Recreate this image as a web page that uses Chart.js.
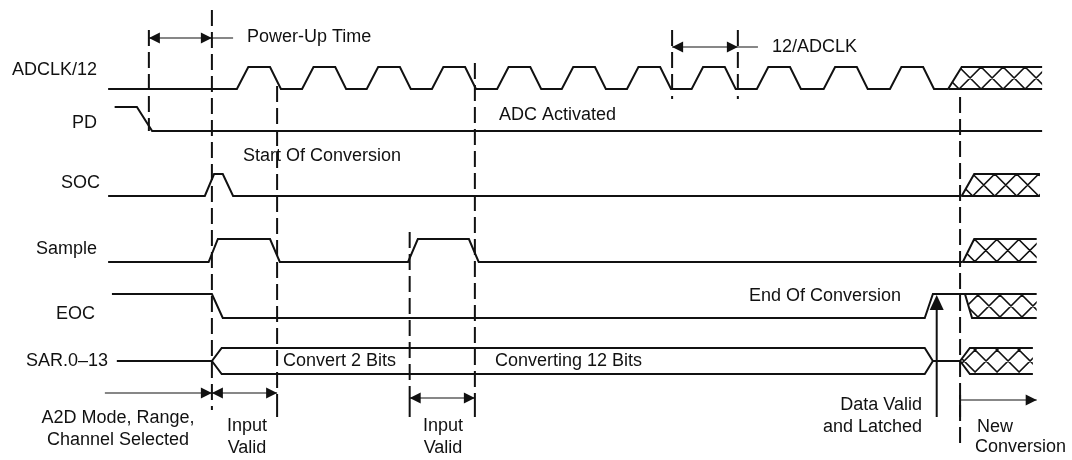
<!DOCTYPE html>
<html>
<head>
<meta charset="utf-8">
<script src="https://cdn.jsdelivr.net/npm/chart.js@4/dist/chart.umd.min.js"></script>
<style>
  body { margin: 0; background: #fff; }
  canvas { display: block; }
</style>
</head>
<body>
<canvas id="timing" width="1072" height="460"></canvas>
<script>
// time axis is in ADCLK cycles, 0 = end of power-up / start of conversion
// levels: 0 = low, 1 = high (bus: -1 / 1 are the two rails)

const adclkT = [-19.1,
  4.6, 6.7, 10.7, 12.7,
  16.6, 18.7, 22.7, 24.7,
  28.5, 30.6, 34.6, 36.6,
  40.5, 42.6, 46.6, 48.6,
  52.5, 54.6, 58.6, 60.6,
  64.4, 66.5, 70.5, 72.5,
  76.4, 78.5, 82.5, 84.5,
  88.3, 90.4, 94.4, 96.4,
  100.3, 102.4, 106.4, 108.4,
  112.6, 114.7, 118.7, 120.7,
  124.8, 126.9, 130.9, 132.9,
  135.5];
const adclkLv = [0,
  0, 1, 1, 0,
  0, 1, 1, 0,
  0, 1, 1, 0,
  0, 1, 1, 0,
  0, 1, 1, 0,
  0, 1, 1, 0,
  0, 1, 1, 0,
  0, 1, 1, 0,
  0, 1, 1, 0,
  0, 1, 1, 0,
  0, 1, 1, 0,
  0];

const pdT = [-17.9, -13.8, -11.0, 152.8];
const pdLv = [1, 1, 0, 0];

const socT = [-19.1, -1.3, 0.4, 2.0, 3.9, 138.0];
const socLv = [0, 0, 1, 1, 0, 0];

const sampleT = [-19.1, -0.6, 1.1, 10.7, 12.5, 36.1, 37.9, 47.3, 49.1, 138.2];
const sampleLv = [0, 0, 1, 1, 0, 0, 1, 1, 0, 0];

const eocT = [-18.4, 0, 2.0, 131.2, 132.7, 151.8];
const eocLv = [1, 1, 0, 0, 1, 1];

const sarTopT = [-17.5, 0, 1.8, 131.2, 132.7, 137.7];
const sarTopLv = [0, 0, 1, 1, 0, 0];
const sarBotT = [0, 1.8, 131.2, 132.7];
const sarBotLv = [0, -1, -1, 0];

// "don't care" regions after the conversion: [leave, reach, end]
const adclkX = [135.5, 138.0, 152.8];
const socX = [138.0, 140.3, 152.4];
const sampleX = [138.2, 140.3, 151.8];
const eocX = [138.6, 139.9, 151.8];
const sarX = [137.7, 139.5, 151.1];

// dashed timing markers
const markT = [-11.6, 0, 12.0, 36.4, 48.4, 84.7, 96.8, 137.7];
const tickT = [12.0, 36.4, 48.4, 137.7];
const latchT = 133.4;

const signalNames = ['ADCLK/12', 'PD', 'SOC', 'Sample', 'EOC', 'SAR.0–13'];

// ---- layout (pixels) ----
const ink = '#111';
const font = '18px "Liberation Sans", Arial, Helvetica, sans-serif';
const rows = {
  adclk: { lo: 89, hi: 67 },
  pd: { lo: 131, hi: 107 },
  soc: { lo: 196, hi: 174 },
  sample: { lo: 262, hi: 239 },
  eoc: { lo: 318, hi: 294 },
  sar: { lo: 361, hi: 348 }
};
const markSpan = [[30, 131], [10, 410], [86, 395], [232, 395], [63, 395], [30, 99], [30, 99], [97, 447]];
const tickSpan = [395, 417];
const latchSpan = [417, 295];
const nameRight = [97, 97, 100, 97, 95, 108];
const nameY = [70, 123, 183, 249, 314, 361];

const dims = [
  { t: [-11.6, 3.9], y: 38, heads: [[-11.6, -1], [0, 1]] },
  { t: [84.7, 100.5], y: 47, heads: [[84.7, -1], [96.8, 1]] },
  { t: [-19.7, 0], y: 393, heads: [[0, 1]] },
  { t: [0, 12.0], y: 393, heads: [[0, -1], [12.0, 1]] },
  { t: [36.4, 48.4], y: 398, heads: [[36.4, -1], [48.4, 1]] },
  { t: [137.7, 151.8], y: 400, heads: [[151.8, 1]] }
];

const notes = [
  ['Power-Up Time', 247, 37, 'left'],
  ['12/ADCLK', 772, 47, 'left'],
  ['ADC Activated', 499, 115, 'left'],
  ['Start Of Conversion', 243, 156, 'left'],
  ['End Of Conversion', 749, 296, 'left'],
  ['Convert 2 Bits', 283, 361, 'left'],
  ['Converting 12 Bits', 495, 361, 'left'],
  ['A2D Mode, Range,', 118, 418, 'center'],
  ['Channel Selected', 118, 440, 'center'],
  ['Input', 247, 426, 'center'],
  ['Valid', 247, 448, 'center'],
  ['Input', 443, 426, 'center'],
  ['Valid', 443, 448, 'center'],
  ['Data Valid', 922, 405, 'right'],
  ['and Latched', 922, 427, 'right'],
  ['New', 977, 427, 'left'],
  ['Conversion', 975, 447, 'left']
];

function wave(t, lv, row) {
  return t.map((x, i) => ({ x: x, y: row.lo + (row.hi - row.lo) * lv[i] }));
}

function line(data, extra) {
  return Object.assign({ data: data, showLine: true, borderColor: ink, borderWidth: 2,
    pointRadius: 0, fill: false, tension: 0 }, extra || {});
}

const datasets = [
  line(wave(adclkT, adclkLv, rows.adclk)),
  line(wave(pdT, pdLv, rows.pd)),
  line(wave(socT, socLv, rows.soc)),
  line(wave(sampleT, sampleLv, rows.sample)),
  line(wave(eocT, eocLv, rows.eoc)),
  line(wave(sarTopT, sarTopLv, rows.sar)),
  line(wave(sarBotT, sarBotLv, rows.sar))
];

markT.forEach((t, i) => {
  datasets.push(line([{ x: t, y: markSpan[i][0] }, { x: t, y: markSpan[i][1] }],
    { borderDash: [16, 6], borderCapStyle: 'butt' }));
});
tickT.forEach(t => {
  datasets.push(line([{ x: t, y: tickSpan[0] }, { x: t, y: tickSpan[1] }]));
});
datasets.push(line([{ x: latchT, y: latchSpan[0] }, { x: latchT, y: latchSpan[1] + 10 }]));
dims.forEach(d => {
  datasets.push(line([{ x: d.t[0], y: d.y }, { x: d.t[1], y: d.y }], { borderWidth: 1.2 }));
});

function hatch(ctx, xs, ys, kind, tr, row) {
  const x0 = xs.getPixelForValue(tr[0]);
  const x1 = xs.getPixelForValue(tr[1]);
  const x2 = xs.getPixelForValue(tr[2]);
  let top, bot, mid;
  if (kind === 'bus') {
    mid = ys.getPixelForValue(row.lo);
    top = ys.getPixelForValue(row.hi);
    bot = mid + (mid - top);
  } else {
    top = ys.getPixelForValue(row.hi);
    bot = ys.getPixelForValue(row.lo);
  }
  const h = bot - top;
  ctx.save();
  ctx.beginPath();
  if (kind === 'rise') {
    ctx.moveTo(x0, bot); ctx.lineTo(x1, top); ctx.lineTo(x2, top); ctx.lineTo(x2, bot);
  } else if (kind === 'fall') {
    ctx.moveTo(x0, top); ctx.lineTo(x2, top); ctx.lineTo(x2, bot); ctx.lineTo(x1, bot);
  } else {
    ctx.moveTo(x0, mid); ctx.lineTo(x1, top); ctx.lineTo(x2, top); ctx.lineTo(x2, bot); ctx.lineTo(x1, bot);
  }
  ctx.closePath();
  ctx.clip();
  ctx.strokeStyle = ink;
  ctx.lineWidth = 1.6;
  ctx.beginPath();
  for (let x = x0 + h / 2 - 2 * 22; x < x2 + h; x += 22) {
    ctx.moveTo(x, top); ctx.lineTo(x + h, bot);
    ctx.moveTo(x, bot); ctx.lineTo(x + h, top);
  }
  ctx.stroke();
  ctx.restore();

  ctx.save();
  ctx.strokeStyle = ink;
  ctx.lineWidth = 2;
  ctx.beginPath();
  if (kind === 'rise') {
    ctx.moveTo(x0, bot); ctx.lineTo(x2, bot);
    ctx.moveTo(x0, bot); ctx.lineTo(x1, top); ctx.lineTo(x2, top);
  } else if (kind === 'fall') {
    ctx.moveTo(x0, top); ctx.lineTo(x1, bot); ctx.lineTo(x2, bot);
  } else {
    ctx.moveTo(x0, mid); ctx.lineTo(x1, top); ctx.lineTo(x2, top);
    ctx.moveTo(x0, mid); ctx.lineTo(x1, bot); ctx.lineTo(x2, bot);
  }
  ctx.stroke();
  ctx.restore();
}

function head(ctx, x, y, dx, dy, len, hw) {
  // tip at (x, y), pointing along (dx, dy)
  ctx.beginPath();
  ctx.moveTo(x, y);
  ctx.lineTo(x - dx * len - dy * hw, y - dy * len + dx * hw);
  ctx.lineTo(x - dx * len + dy * hw, y - dy * len - dx * hw);
  ctx.closePath();
  ctx.fill();
}

const timingPlugin = {
  id: 'timing',
  afterDatasetsDraw(chart) {
    const ctx = chart.ctx;
    const xs = chart.scales.x, ys = chart.scales.y;

    hatch(ctx, xs, ys, 'rise', adclkX, rows.adclk);
    hatch(ctx, xs, ys, 'rise', socX, rows.soc);
    hatch(ctx, xs, ys, 'rise', sampleX, rows.sample);
    hatch(ctx, xs, ys, 'fall', eocX, rows.eoc);
    hatch(ctx, xs, ys, 'bus', sarX, rows.sar);

    ctx.save();
    ctx.fillStyle = ink;
    dims.forEach(d => {
      const y = ys.getPixelForValue(d.y);
      d.heads.forEach(hd => head(ctx, xs.getPixelForValue(hd[0]), y, hd[1], 0, 11, 5.5));
    });
    head(ctx, xs.getPixelForValue(latchT), ys.getPixelForValue(latchSpan[1]), 0, -1, 15, 7);

    ctx.font = font;
    ctx.textBaseline = 'middle';
    signalNames.forEach((s, i) => {
      ctx.textAlign = 'right';
      ctx.fillText(s, nameRight[i], nameY[i]);
    });
    notes.forEach(n => {
      ctx.textAlign = n[3];
      ctx.fillText(n[0], n[1], n[2]);
    });
    ctx.restore();
  }
};

new Chart(document.getElementById('timing'), {
  type: 'scatter',
  data: { datasets: datasets },
  options: {
    responsive: false,
    animation: false,
    devicePixelRatio: 1,
    layout: { padding: 0 },
    plugins: { legend: { display: false }, tooltip: { enabled: false } },
    scales: {
      x: { type: 'linear', display: false, min: -39, max: 158.3 },
      y: { type: 'linear', display: false, min: 0, max: 460, reverse: true }
    }
  },
  plugins: [timingPlugin]
});
</script>
</body>
</html>
